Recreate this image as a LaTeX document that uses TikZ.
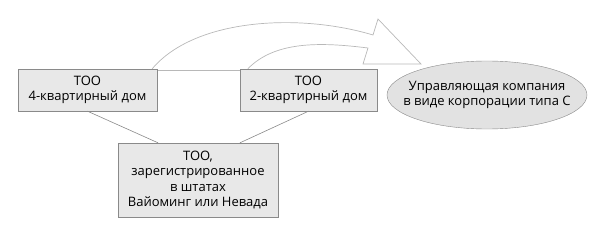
\documentclass[tikz,border=0pt]{standalone}
\usepackage{fontspec}
\setmainfont{Open Sans}
\usepackage{tikz}
\usetikzlibrary{positioning,shapes.geometric,backgrounds}
\definecolor{boxFill}{HTML}{E8E8E8}
\definecolor{ovalFill}{HTML}{E2E2E2}
\definecolor{edgeGray}{HTML}{8A8A8A}
\definecolor{arrGray}{HTML}{B8B8B8}

\begin{document}
\begin{tikzpicture}[x=1pt, y=1pt,
     llc/.style={draw=edgeGray, fill=boxFill, align=center, inner sep=0pt,
                 font=\fontsize{13}{15.5}\selectfont},
     corp/.style={ellipse, draw=edgeGray, fill=ovalFill, align=center,
                  inner xsep=-16pt, inner ysep=0pt, minimum width=200pt, minimum height=68pt,
                  font=\fontsize{13}{15.5}\selectfont},
     link/.style={draw=edgeGray, line width=0.6pt},
     flow/.style={draw=arrGray, line width=0.7pt, line join=miter}]
     \useasboundingbox (0,0) rectangle (600,231);
     \node[llc, minimum width=139pt, minimum height=42pt] (b4) at (87.5,141) {ТОО\\4-квартирный дом};
     \node[llc, minimum width=137pt, minimum height=42pt] (b2) at (308.5,141) {ТОО\\2-квартирный дом};
     \node[corp] (uk) at (487,136) {Управляющая компания\\в виде корпорации типа С};
     \node[llc, minimum width=160pt, minimum height=74pt] (wy) at (198,51)
          {ТОО,\\зарегистрированное\\в штатах\\Вайоминг или Невада};
     \draw[link] (b4.south) -- ([xshift=-40pt]wy.north);
     \draw[link] (b2.south) -- ([xshift=42pt]wy.north);
     % block arrow over the boxes
     \begin{scope}[on background layer]
       \draw[flow] ([xshift=-5pt]b4.north east)
            .. controls (195,213) and (300,218) .. (373,196)
            -- (378,212) -- (421,167) -- (363,167) -- (368,183)
            .. controls (320,189) and (275,190) .. ([xshift=8pt]b2.north west);
       \draw[flow] ([yshift=-2pt]b4.north east) -- ([yshift=-2pt]b2.north west);
     \end{scope}
\end{tikzpicture}
\end{document}
